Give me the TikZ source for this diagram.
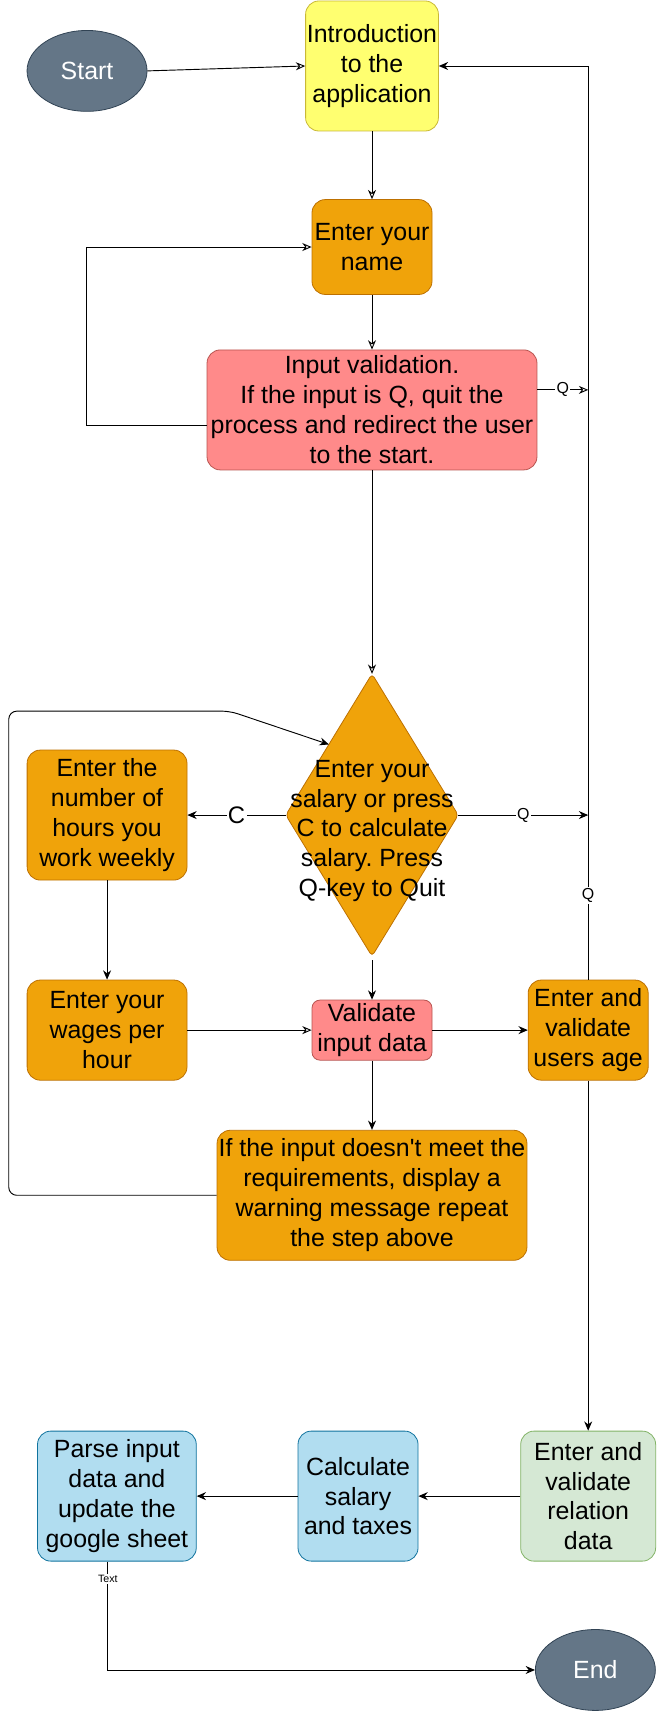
\documentclass[tikz,border=0pt]{standalone}
\usepackage{fontspec}
\setmainfont{Liberation Sans}
\usetikzlibrary{calc,shapes.geometric,arrows.meta}
\frenchspacing

\definecolor{slatefill}{HTML}{647687}
\definecolor{slateline}{HTML}{314354}
\definecolor{introfill}{HTML}{FFFF70}
\definecolor{introline}{HTML}{C9B836}
\definecolor{orfill}{HTML}{F0A30A}
\definecolor{orline}{HTML}{BD7000}
\definecolor{redfill}{HTML}{FF8A8A}
\definecolor{redline}{HTML}{B85450}
\definecolor{bluefill}{HTML}{B1DDF0}
\definecolor{blueline}{HTML}{10739E}
\definecolor{greenfill}{HTML}{D5E8D4}
\definecolor{greenline}{HTML}{82B366}

\begin{document}
\begin{tikzpicture}[node distance=5cm,
  box/.style={draw, rounded corners=10pt, align=center, inner sep=1pt, line width=0.6pt, font=\fontsize{18.75}{22.5}\selectfont},
  term/.style={ellipse, draw=slateline, fill=slatefill, text=white, line width=0.6pt, minimum width=3.175cm, minimum height=2.14cm, inner sep=0pt, font=\fontsize{18.75}{22.5}\selectfont},
  yelbox/.style={box, fill=introfill, draw=introline},
  orbox/.style={box, fill=orfill, draw=orline},
  redbox/.style={box, fill=redfill, draw=redline},
  bluebox/.style={box, fill=bluefill, draw=blueline},
  greenbox/.style={box, fill=greenfill, draw=greenline},
  arr/.style={-{Stealth[length=7pt, width=6pt]}, line width=0.7pt},
  arro/.style={-{Stealth[open, length=7pt, width=6pt]}, line width=0.7pt},
  lbl/.style={fill=white, inner sep=1pt, font=\fontsize{12}{14}\selectfont}]

  \useasboundingbox (-9.843,1.746) rectangle (7.515,-43.526);

  % Top column
  \node[yelbox, minimum width=3.47cm, minimum height=3.44cm] (intro) at (0,0) {Introduction\\to the\\application};
  \node[term, left of=intro, node distance=7.54cm, yshift=-0.13cm] (start) {Start};
  \node[orbox, below of=intro, node distance=4.79cm, minimum width=3.175cm, minimum height=2.51cm] (name) {Enter your\\name};
  \node[redbox, below of=name, node distance=4.31cm, minimum width=8.73cm, minimum height=3.175cm] (valid) {Input validation.\\If the input is Q, quit the\\process and redirect the user\\to the start.};

  % Decision
  \node[below of=valid, node distance=10.72cm, minimum width=4.55cm, minimum height=7.46cm, inner sep=0pt] (ask) {};
  \draw[fill=orfill, draw=orline, line width=0.6pt, rounded corners=3pt] (ask.north) -- (ask.east) -- (ask.south) -- (ask.west) -- cycle;
  \node[align=center, font=\fontsize{18.75}{22.5}\selectfont] (asktext) at ($(ask)+(0,-0.42)$) {Enter your\\salary or press\\C to calculate\\salary. Press\\Q-key to Quit};

  % Middle rows
  \node[orbox, left of=ask, node distance=7.01cm, minimum width=4.23cm, minimum height=3.44cm] (hours) {Enter the\\number of\\hours you\\work weekly};
  \node[orbox, below of=hours, node distance=5.69cm, minimum width=4.23cm, minimum height=2.65cm] (wages) {Enter your\\wages per\\hour};
  \node[redbox, below of=ask, node distance=5.69cm, minimum width=3.175cm, minimum height=1.59cm, rounded corners=6pt] (check) {Validate\\input data};
  \node[orbox, right of=check, node distance=5.72cm, minimum width=3.175cm, minimum height=2.65cm] (age) {Enter and\\validate\\users age};
  \node[orbox, below of=check, node distance=4.37cm, minimum width=8.2cm, minimum height=3.44cm] (warn) {If the input doesn\textquotesingle t meet the\\requirements, display a\\warning message repeat\\the step above};

  % Bottom row
  \node[greenbox, below of=age, node distance=12.33cm, minimum width=3.57cm, minimum height=3.44cm] (relation) {Enter and\\validate\\relation\\data};
  \node[bluebox, left of=relation, node distance=6.09cm, minimum width=3.175cm, minimum height=3.44cm] (calc) {Calculate\\salary\\and taxes};
  \node[bluebox, left of=calc, node distance=6.38cm, minimum width=4.2cm, minimum height=3.44cm] (parse) {Parse input\\data and\\update the\\google sheet};
  \node[term, below of=relation, node distance=4.6cm, xshift=0.19cm] (end) {End};

  % Helper points on the return line
  \path ($(valid.east)+(0,0.53)$) coordinate (v1);
  \coordinate (q1) at (v1 -| age.north);
  \coordinate (q2) at (ask.east -| age.north);

  % Vertical arrows
  \draw[arro] (start.east) -- (intro.west);
  \draw[arro] (intro.south) -- (name.north);
  \draw[arro] (name.south) -- (valid.north);
  \draw[arro] (valid.south) -- (ask.north);
  \draw[arr] (ask.south) ++(0,-0.1) -- (check.north);
  \draw[arr] (hours.south) -- (wages.north);
  \draw[arr] (check.south) -- (warn.north);
  \draw[arr] (age.south) -- (relation.north);

  % Horizontal arrows
  \draw[arr] (ask.west) -- (hours.east) node[lbl, midway, font=\fontsize{18}{20}\selectfont] {C};
  \draw[arr] (ask.east) -- (q2) node[lbl, midway] {Q};
  \draw[arro] (v1) -- (q1) node[lbl, midway] {Q};
  \draw[arro] (wages.east) -- (check.west);
  \draw[arr] (check.east) -- (age.west);
  \draw[arr] (relation.west) -- (calc.east);
  \draw[arr] (calc.west) -- (parse.east);

  % Loops back
  \draw[arr] (age.north) |- (intro.east) node[lbl, pos=0.046] {Q};
  \draw[arro] ($(valid.west)+(0,-0.4)$) -- ++(-3.175,0) |- (name.west);
  \draw[arr, rounded corners=6pt] (warn.west) -- ++(-5.5,0) -- ++(0,12.81) -- ++(5.85,0) -- ($(ask.north)!0.5!(ask.west)$);

  % To the end
  \draw[arr] ($(parse.south)+(-0.24,0)$) |- (end.west) node[pos=0.08, fill=white, inner sep=1pt, font=\fontsize{8}{9}\selectfont] {Text};

\end{tikzpicture}
\end{document}
